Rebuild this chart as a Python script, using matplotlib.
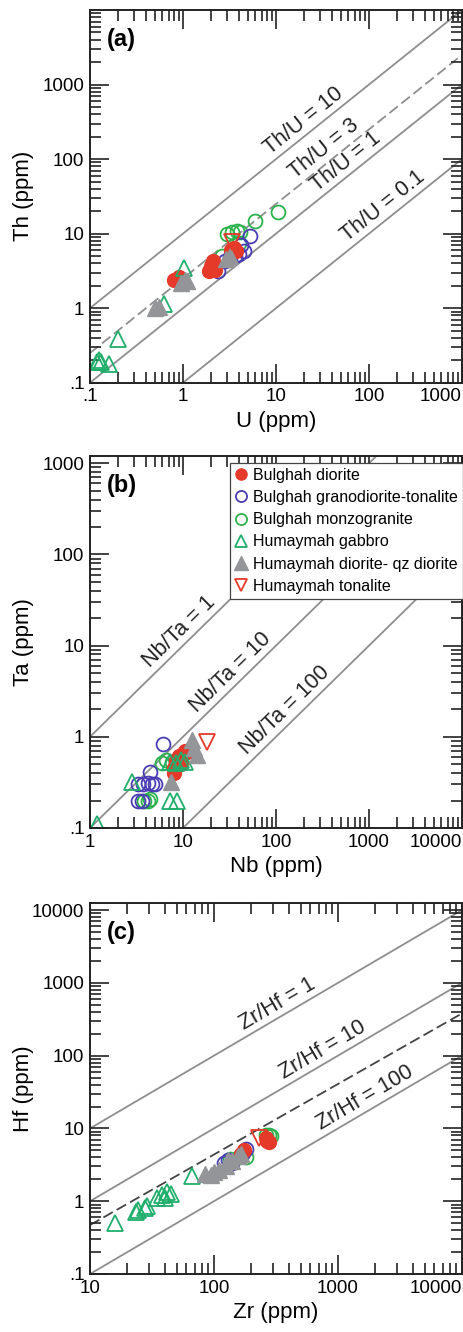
import numpy as np
import matplotlib.pyplot as plt
import matplotlib.transforms as mtransforms
from matplotlib.ticker import FixedLocator, FixedFormatter, LogLocator, NullFormatter

plt.rcParams['font.family'] = ['Liberation Sans', 'DejaVu Sans']

# %% data

# (a) U vs Th
a_bd_u = [0.8, 0.9, 1.9, 2.0, 2.1, 2.2, 3.3, 3.5, 3.7]
a_bd_th = [2.4, 2.6, 3.2, 3.7, 4.3, 3.3, 6.0, 6.5, 5.8]
a_bg_u = [2.4, 2.8, 3.2, 3.6, 4.0, 4.5, 4.2, 5.2]
a_bg_th = [3.2, 4.3, 4.8, 5.0, 5.4, 5.8, 7.0, 9.3]
a_bm_u = [2.6, 3.0, 3.4, 3.8, 4.1, 4.0, 5.9, 10.5]
a_bm_th = [5.0, 10.0, 10.5, 11.0, 10.5, 7.5, 14.7, 19.5]
a_hg_u = [0.12, 0.125, 0.13, 0.16, 0.2, 0.62, 1.02]
a_hg_th = [0.19, 0.2, 0.19, 0.18, 0.38, 1.15, 3.5]
a_hd_u = [0.5, 0.55, 0.95, 1.05, 1.1, 2.9, 3.2]
a_hd_th = [1.0, 1.05, 2.2, 2.4, 2.3, 4.6, 5.0]
a_ht_u = [3.4]
a_ht_th = [7.8]

# (b) Nb vs Ta
b_bd_nb = [8.0, 8.5, 9.0, 9.5, 10.0, 10.5, 11.0, 8.0]
b_bd_ta = [0.45, 0.55, 0.62, 0.5, 0.65, 0.7, 0.68, 0.4]
b_bg_nb = [3.3, 3.7, 4.2, 4.6, 5.0, 4.4, 6.1, 3.3, 3.6]
b_bg_ta = [0.3, 0.3, 0.31, 0.3, 0.3, 0.41, 0.83, 0.2, 0.2]
b_bm_nb = [3.8, 4.2, 4.4, 5.9, 6.5, 7.6]
b_bm_ta = [0.2, 0.2, 0.21, 0.52, 0.55, 0.53]
b_hg_nb = [1.2, 2.8, 7.2, 8.4, 9.6, 10.5, 7.2, 8.6]
b_hg_ta = [0.11, 0.32, 0.53, 0.52, 0.55, 0.53, 0.2, 0.2]
b_hd_nb = [7.5, 12.4, 14.0, 13.0]
b_hd_ta = [0.32, 0.92, 0.63, 0.75]
b_ht_nb = [18.0]
b_ht_ta = [0.88]

# (c) Zr vs Hf
c_bd_zr = [175, 165, 270, 265, 280]
c_bd_hf = [5.0, 4.5, 6.8, 7.3, 6.5]
c_bg_zr = [120, 130, 140, 180, 170]
c_bg_hf = [3.4, 3.7, 3.3, 5.2, 4.6]
c_bm_zr = [135, 160, 180, 280, 290, 265]
c_bm_hf = [3.8, 4.1, 4.0, 8.2, 7.8, 8.0]
c_hg_zr = [16, 23.5, 24.5, 28, 29, 35, 38, 42, 45, 40, 67]
c_hg_hf = [0.5, 0.72, 0.75, 0.8, 0.85, 1.1, 1.2, 1.35, 1.25, 1.1, 2.2]
c_hd_zr = [85, 95, 100, 110, 125, 130, 140, 155, 165]
c_hd_hf = [2.4, 2.3, 2.5, 2.7, 3.0, 3.7, 3.6, 4.2, 4.5]
c_ht_zr = [230]
c_ht_hf = [7.3]

# reference lines
a_ratios = [10, 1, 0.1]
a_ratio_texts = ['Th/U = 10', 'Th/U = 1', 'Th/U = 0.1']
a_text_x = [24, 68, 170]
a_dash_ratio = 2.5
a_dash_text = 'Th/U = 3'
a_dash_text_x = 40

b_ratios = [1, 0.1, 0.01]
b_ratio_texts = ['Nb/Ta = 1', 'Nb/Ta = 10', 'Nb/Ta = 100']
b_text_x = [11.2, 40, 155]

c_ratios = [1, 0.1, 0.01]
c_ratio_texts = ['Zr/Hf = 1', 'Zr/Hf = 10', 'Zr/Hf = 100']
c_text_x = [364, 855, 1860]
c_dash_x = [10, 10000]
c_dash_y = [0.47, 380]

labels = ['Bulghah diorite', 'Bulghah granodiorite-tonalite', 'Bulghah monzogranite',
          'Humaymah gabbro', 'Humaymah diorite- qz diorite', 'Humaymah tonalite']

red = '#e5392a'
blue = '#4a3db3'
green = '#2bb24c'
teal = '#1fae6c'
grey = '#939598'
linegrey = '#8e8e8e'

# %%

fig = plt.figure(figsize=(4.64, 13.32), dpi=100)
W, H = 464.0, 1332.0


def rect(l, r, t, b):
    return [l / W, 1 - b / H, (r - l) / W, (b - t) / H]


def setup(ax, xlim, ylim, xt, xl, yt, yl, xlab, ylab, letter):
    ax.set_xscale('log')
    ax.set_yscale('log')
    ax.set_xlim(xlim)
    ax.set_ylim(ylim)
    ax.xaxis.set_major_locator(FixedLocator(xt))
    ax.xaxis.set_major_formatter(FixedFormatter(xl))
    ax.yaxis.set_major_locator(FixedLocator(yt))
    ax.yaxis.set_major_formatter(FixedFormatter(yl))
    for axis in [ax.xaxis, ax.yaxis]:
        axis.set_minor_locator(LogLocator(base=10, subs=np.arange(2, 10), numticks=20))
        axis.set_minor_formatter(NullFormatter())
    ax.tick_params(which='both', direction='in', top=True, right=True,
                   labelsize=13.5, width=1.2, color='#222')
    ax.tick_params(which='major', length=14, pad=4)
    ax.tick_params(which='minor', length=8)
    # last x label right-aligned on its tick so it stays inside the picture
    ax.xaxis.get_major_ticks()[-1].label1.set_horizontalalignment('right')
    for s in ax.spines.values():
        s.set_linewidth(1.4)
        s.set_color('#222')
    ax.set_xlabel(xlab, fontsize=16)
    ax.set_ylabel(ylab, fontsize=16)
    ax.xaxis.set_label_coords(0.5, -0.075)
    ax.yaxis.set_label_coords(-0.15, 0.5)
    ax.text(0.045, 0.92, letter, transform=ax.transAxes, fontsize=17,
            fontweight='bold', ha='left', va='center')


def ratio_line(ax, ratio, xlim, **kw):
    xs = np.array(xlim, dtype=float)
    ax.plot(xs, ratio * xs, color=linegrey, lw=1.3, zorder=1, **kw)


def ratio_label(ax, x, ratio, text):
    y = ratio * x
    p1 = ax.transData.transform((x, y))
    p2 = ax.transData.transform((x * 10, y * 10))
    ang = np.degrees(np.arctan2(p2[1] - p1[1], p2[0] - p1[0]))
    off = mtransforms.offset_copy(ax.transData, fig=fig,
                                  x=-1.5 * np.sin(np.radians(ang)),
                                  y=1.5 * np.cos(np.radians(ang)), units='points')
    ax.text(x, y, text, rotation=ang, rotation_mode='anchor', ha='center',
            va='bottom', fontsize=15.5, color='#222', transform=off)


def scatter_all(ax, d):
    h = []
    h.append(ax.plot(d[2][0], d[2][1], 'o', ms=10, mfc='none', mec=green, mew=1.3, ls='none')[0])
    h.append(ax.plot(d[1][0], d[1][1], 'o', ms=10, mfc='none', mec=blue, mew=1.3, ls='none')[0])
    h.append(ax.plot(d[0][0], d[0][1], 'o', ms=10, mfc=red, mec=red, ls='none')[0])
    h.append(ax.plot(d[3][0], d[3][1], '^', ms=11, mfc='none', mec=teal, mew=1.3, ls='none')[0])
    h.append(ax.plot(d[4][0], d[4][1], '^', ms=12, mfc=grey, mec=grey, ls='none')[0])
    h.append(ax.plot(d[5][0], d[5][1], 'v', ms=11, mfc='none', mec=red, mew=1.3, ls='none')[0])
    return [h[2], h[1], h[0], h[3], h[4], h[5]]


# (a)
ax1 = fig.add_axes(rect(90, 462, 10, 382.7))
xlim = (0.1, 1000)
setup(ax1, xlim, (0.1, 10000), [0.1, 1, 10, 100, 1000], ['.1', '1', '10', '100', '1000'],
      [0.1, 1, 10, 100, 1000], ['.1', '1', '10', '100', '1000'], 'U (ppm)', 'Th (ppm)', '(a)')
for r, t, tx in zip(a_ratios, a_ratio_texts, a_text_x):
    ratio_line(ax1, r, xlim)
    ratio_label(ax1, tx, r, t)
ratio_line(ax1, a_dash_ratio, xlim, dashes=(6, 2.5))
ratio_label(ax1, a_dash_text_x, a_dash_ratio, a_dash_text)
scatter_all(ax1, [(a_bd_u, a_bd_th), (a_bg_u, a_bg_th), (a_bm_u, a_bm_th),
                  (a_hg_u, a_hg_th), (a_hd_u, a_hd_th), (a_ht_u, a_ht_th)])

# (b)
ax2 = fig.add_axes(rect(90, 462, 456, 828))
xlim = (1, 10000)
setup(ax2, xlim, (0.1, 1200), [1, 10, 100, 1000, 10000], ['1', '10', '100', '1000', '10000'],
      [0.1, 1, 10, 100, 1000], ['.1', '1', '10', '100', '1000'], 'Nb (ppm)', 'Ta (ppm)', '(b)')
for r, t, tx in zip(b_ratios, b_ratio_texts, b_text_x):
    ratio_line(ax2, r, xlim)
    ratio_label(ax2, tx, r, t)
hs = scatter_all(ax2, [(b_bd_nb, b_bd_ta), (b_bg_nb, b_bg_ta), (b_bm_nb, b_bm_ta),
                       (b_hg_nb, b_hg_ta), (b_hd_nb, b_hd_ta), (b_ht_nb, b_ht_ta)])
leg = ax2.legend(hs, labels, loc='upper left', bbox_to_anchor=((230 - 90) / 372.0, 1 - 7 / 372.0),
                 borderaxespad=0, fontsize=11.5, frameon=True, fancybox=False,
                 framealpha=1, edgecolor='#444', handlelength=0.8, handletextpad=0.35,
                 labelspacing=0.45, borderpad=0.3, markerscale=0.8)
leg.get_frame().set_linewidth(0.9)
leg.set_zorder(5)

# (c)
ax3 = fig.add_axes(rect(90, 462, 903, 1274))
xlim = (10, 10000)
setup(ax3, xlim, (0.1, 12500), [10, 100, 1000, 10000], ['10', '100', '1000', '10000'],
      [0.1, 1, 10, 100, 1000, 10000], ['.1', '1', '10', '100', '1000', '10000'],
      'Zr (ppm)', 'Hf (ppm)', '(c)')
for r, t, tx in zip(c_ratios, c_ratio_texts, c_text_x):
    ratio_line(ax3, r, xlim)
    ratio_label(ax3, tx, r, t)
ax3.plot(c_dash_x, c_dash_y, color='#444', lw=1.3, dashes=(6, 2.5), zorder=1)
scatter_all(ax3, [(c_bd_zr, c_bd_hf), (c_bg_zr, c_bg_hf), (c_bm_zr, c_bm_hf),
                  (c_hg_zr, c_hg_hf), (c_hd_zr, c_hd_hf), (c_ht_zr, c_ht_hf)])

fig.savefig('out.png', dpi=100)
